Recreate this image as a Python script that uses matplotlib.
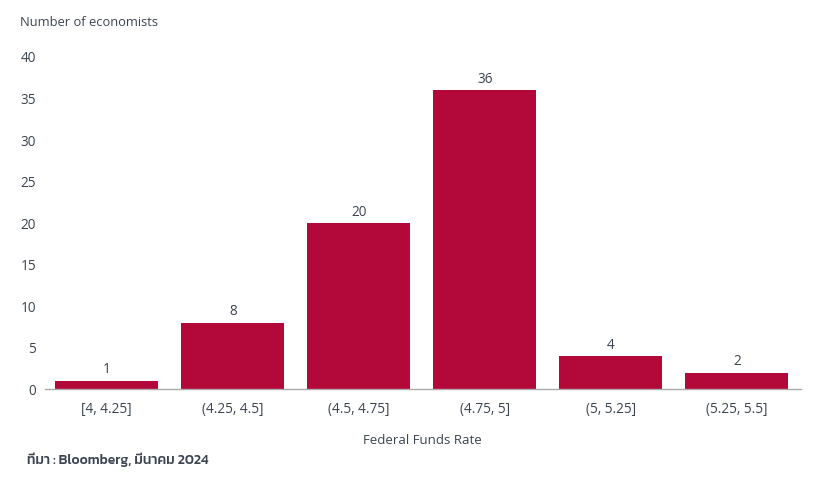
import matplotlib
matplotlib.use("Agg")
import matplotlib.pyplot as plt

categories = ["[4, 4.25]", "(4.25, 4.5]", "(4.5, 4.75]", "(4.75, 5]", "(5, 5.25]", "(5.25, 5.5]"]
counts = [1, 8, 20, 36, 4, 2]
yticks = [0, 5, 10, 15, 20, 25, 30, 35, 40]

plt.rcParams['font.family'] = ['Open Sans', 'DejaVu Sans']
text_color = "#3b4450"
bar_color = "#B3093A"

fig = plt.figure(figsize=(8.2, 4.87), dpi=100)
ax = fig.add_axes([0.0549, 0.201, 0.922, 0.682])
x = list(range(len(categories)))
ax.bar(x, counts, width=0.82, color=bar_color)
for xi, v in zip(x, counts):
    ax.text(xi, v + 0.4, str(v), ha="center", va="bottom", fontsize=9.8, color=text_color)

ax.set_xlim(-0.49, 5.51)
ax.set_ylim(0, 40)
ax.set_yticks(yticks)
ax.set_xticks(x)
ax.set_xticklabels(categories)
ax.tick_params(axis="both", length=0, labelsize=9.8, colors=text_color)
ax.tick_params(axis="x", pad=9)
ax.tick_params(axis="y", pad=6.5)
for s in ["top", "right", "left"]:
    ax.spines[s].set_visible(False)
ax.spines["bottom"].set_color("#aaaaaa")
ax.spines["bottom"].set_linewidth(1)

fig.text(20/820, 1 - 22/487, "Number of economists", fontsize=9.3, color=text_color, va="center", ha="left")
fig.text(422/820, 1 - 441/487, "Federal Funds Rate", fontsize=9.5, color=text_color, va="center", ha="center")
fig.text(27/820, 1 - 460/487, "ที่มา : Bloomberg, มีนาคม 2024", fontsize=10, color=text_color,
         va="center", ha="left", family=["Kanit", "Prompt", "Noto Sans Thai"], fontweight="medium")

fig.savefig("out.png", dpi=100)
